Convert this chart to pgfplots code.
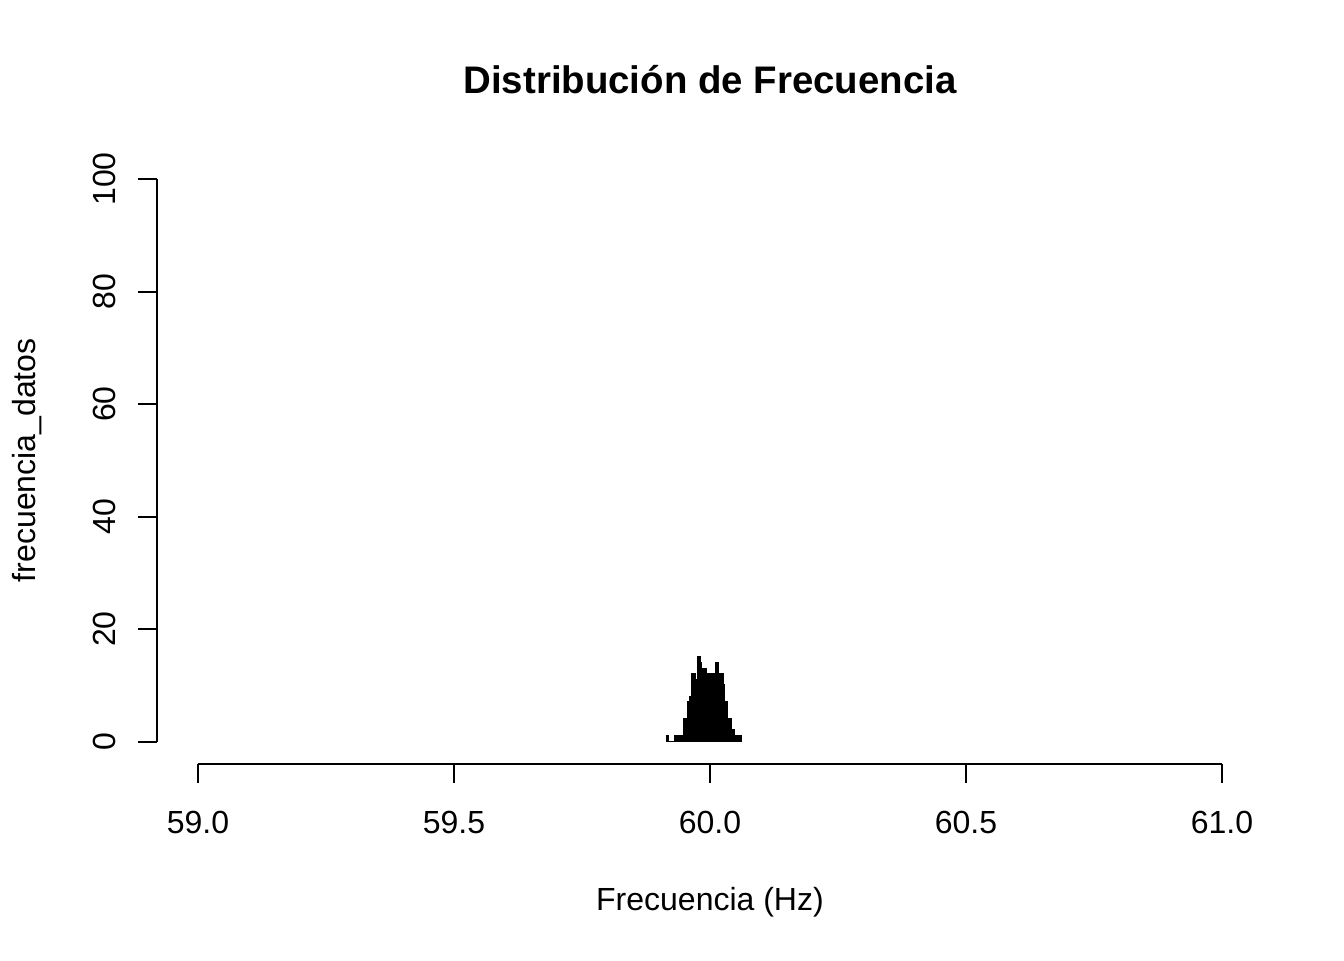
\documentclass[border=0pt]{standalone}
\usepackage{pgfplots}
\pgfplotsset{compat=1.18}
\usepackage{fontspec}
\setmainfont{Liberation Sans}
\begin{document}
\begin{tikzpicture}[x=1pt,y=1pt]
\useasboundingbox (0,0) rectangle (504,360);
\begin{axis}[
  at={(58.875pt,73.5pt)}, anchor=south west,
  scale only axis, width=414.75pt, height=227.8pt,
  xmin=58.92, xmax=61.08, ymin=-4, ymax=104,
  axis lines=left, axis line style={draw=none},
  tick align=outside, major tick length=7.125pt,
  tick style={black, line width=0.75pt},
  xtick={59,59.5,60,60.5,61},
  ytick={0,20,40,60,80,100},
  /pgf/number format/assume math mode=true,
  xticklabel={\pgfmathprintnumber[fixed,fixed zerofill,precision=1]{\tick}},
  yticklabel={\pgfmathprintnumber[fixed,precision=0]{\tick}},
  ticklabel style={font=\fontsize{12pt}{14pt}\selectfont},
  xticklabel style={anchor=base, yshift=-18.9pt},
  yticklabel style={anchor=base, xshift=-8.25pt, rotate=90},
  title={Distribución de Frecuencia},
  title style={font=\fontsize{14.4pt}{17pt}\selectfont\bfseries, at={(rel axis cs:0.5,1)}, anchor=base, yshift=17.8pt},
  xlabel={Frecuencia (Hz)},
  xlabel style={font=\fontsize{12pt}{14pt}\selectfont, at={(rel axis cs:0.5,0)}, anchor=base, yshift=-54.75pt},
  ylabel={frecuencia\_datos},
  ylabel style={font=\fontsize{12pt}{14pt}\selectfont, at={(rel axis cs:-0.1094,0.5)}, anchor=base, rotate=0},
  clip=false,
]
\addplot[ybar interval, fill=black, draw=black, line width=0.6pt] coordinates {
(59.9160,1) (59.9192,0) (59.9224,0) (59.9256,0) (59.9288,0)
(59.9320,1) (59.9352,1) (59.9384,1) (59.9416,1) (59.9448,1)
(59.9480,4) (59.9512,4) (59.9544,4) (59.9576,7) (59.9608,8)
(59.9640,12) (59.9672,12) (59.9704,8) (59.9736,11) (59.9768,15)
(59.9800,14) (59.9832,13) (59.9864,12) (59.9896,13) (59.9928,10)
(59.9960,12) (59.9992,12) (60.0024,10) (60.0056,12) (60.0088,12)
(60.0120,14) (60.0152,10) (60.0184,12) (60.0216,12) (60.0248,10)
(60.0280,7) (60.0312,7) (60.0344,4) (60.0376,4) (60.0408,2)
(60.0440,2) (60.0472,1) (60.0504,1) (60.0536,1) (60.0568,1)
(60.0600,1)
};
\draw[line width=0.75pt] (axis cs:59,-4) -- (axis cs:61,-4);
\draw[line width=0.75pt] (axis cs:58.92,0) -- (axis cs:58.92,100);
\end{axis}
\end{tikzpicture}
\end{document}
